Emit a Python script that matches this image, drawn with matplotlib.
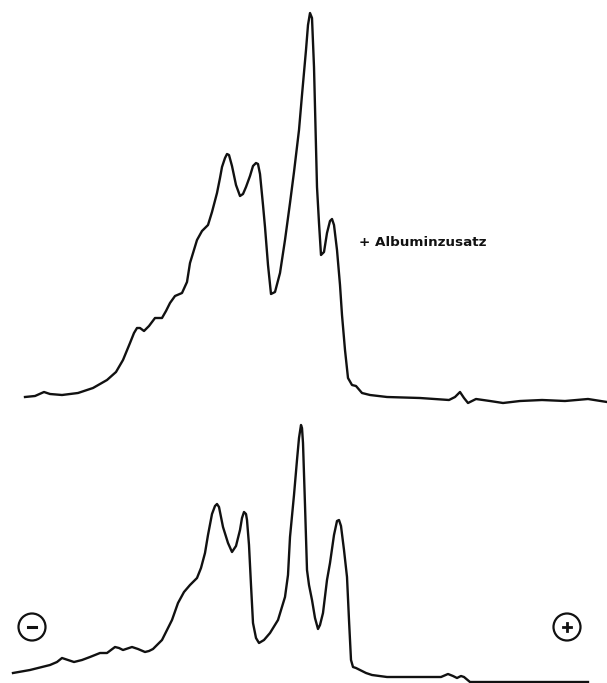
import matplotlib
matplotlib.use('Agg')
import matplotlib.pyplot as plt
from matplotlib.patches import Circle

# ---------------------------------------------------------------------------
# Densitometer scans (position along strip, trace height on the page)
# ---------------------------------------------------------------------------

# upper scan: serum + Albuminzusatz
TOP_X = [25, 35, 44, 50, 62, 78, 93, 107, 116, 123, 130, 134, 137, 140, 144, 149, 155,
         162, 166, 170, 175, 182, 187, 190, 197, 202, 208, 212, 217, 220, 222, 225,
         227, 229, 232, 236, 240, 243, 246, 250, 253, 256, 258, 260, 263, 265, 268, 271,
         275, 280, 285, 290, 294, 299, 302, 306, 308, 310, 312, 314, 317, 319, 321,
         324, 327, 330, 332, 334, 337, 340, 342, 345, 348, 352, 356, 362, 370, 387,
         420, 449, 455, 460, 464, 468, 476, 490, 503, 520, 542, 565, 588, 607]
TOP_Y = [397, 396, 392, 394, 395, 393, 388, 380, 372, 360, 343, 333, 328, 328, 331, 326, 318,
         318, 311, 303, 296, 293, 282, 263, 240, 231, 225, 212, 193, 178, 167, 158,
         154, 155, 166, 185, 196, 194, 187, 176, 166, 163, 164, 174, 205, 227, 265, 294,
         292, 273, 240, 203, 172, 130, 95, 50, 25, 13, 18, 67, 187, 223, 255,
         252, 233, 221, 219, 225, 250, 285, 315, 350, 378, 385, 386, 393, 395, 397,
         398, 400, 397, 392, 398, 403, 399, 401, 403, 401, 400, 401, 399, 402]

# lower scan: serum without addition
BOT_X = [13, 30, 50, 57, 62, 68, 74, 82, 90, 100, 107, 111, 115, 119, 123, 132,
         138, 145, 149, 153, 158, 162, 167, 172, 178, 184, 190, 197, 201, 205, 208, 212,
         215, 217, 219, 223, 228, 232, 236, 240, 242, 244, 246, 247, 249, 251, 253, 256,
         259, 264, 270, 278, 285, 288, 290, 294, 297, 299, 301, 302, 303, 305, 307,
         309, 312, 315, 318, 320, 323, 327, 330, 334, 337, 339, 341, 344, 347, 349,
         351, 353, 356, 360, 366, 372, 387, 420, 441, 448, 453, 457, 461, 464, 470,
         503, 540, 588]
BOT_Y = [673, 670, 665, 662, 658, 660, 662, 660, 657, 653, 653, 650, 647, 648, 650, 647,
         649, 652, 651, 649, 644, 640, 630, 620, 603, 592, 585, 578, 568, 553, 535, 514,
         506, 504, 507, 527, 543, 552, 546, 530, 518, 512, 514, 520, 545, 585, 623, 638,
         643, 640, 633, 620, 597, 575, 537, 495, 460, 438, 425, 428, 443, 505, 570,
         585, 600, 618, 629, 625, 613, 580, 563, 535, 521, 520, 526, 550, 577, 620,
         660, 667, 668, 670, 673, 675, 677, 677, 677, 674, 676, 678, 676, 677, 682,
         682, 682, 682]

LABEL = '+ Albuminzusatz'

fig = plt.figure(figsize=(6.07, 6.83), dpi=100)
ax = fig.add_axes([0, 0, 1, 1])
ax.set_xlim(0, 607)
ax.set_ylim(683, 0)
ax.axis('off')

ax.plot(TOP_X, TOP_Y, color='#111111', linewidth=1.7, solid_joinstyle='round')
ax.plot(BOT_X, BOT_Y, color='#111111', linewidth=1.7, solid_joinstyle='round')

ax.text(359, 242.5, LABEL, fontsize=9.7, fontweight='bold', va='center', ha='left',
        color='#111111')

# electrode symbols
for cx, sign in [(32, '-'), (567, '+')]:
    ax.add_patch(Circle((cx, 627), 13.5, fill=False, edgecolor='#111111', linewidth=1.6))
    if sign == '-':
        ax.plot([28, 36], [627, 627], color='#111111', linewidth=2.2)
    else:
        ax.plot([563, 571], [627, 627], color='#111111', linewidth=2.0)
        ax.plot([567, 567], [623, 631], color='#111111', linewidth=2.0)

fig.savefig('out.png', dpi=100, facecolor='white')
